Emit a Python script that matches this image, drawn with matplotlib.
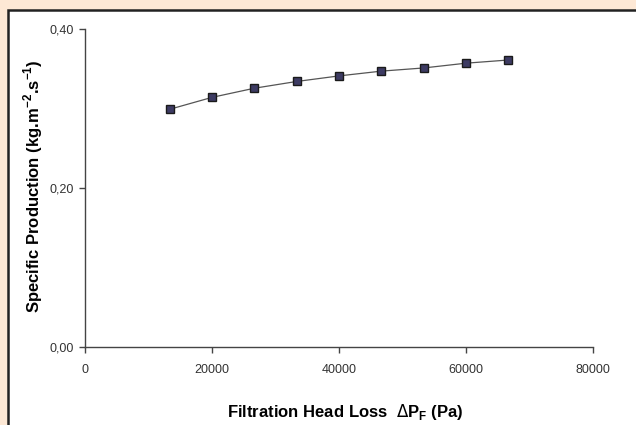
import matplotlib
matplotlib.use("Agg")
import matplotlib.pyplot as plt
from matplotlib.patches import Rectangle

head_loss = [13333, 20000, 26667, 33333, 40000, 46667, 53333, 60000, 66667]
production = [0.299, 0.314, 0.3255, 0.334, 0.341, 0.347, 0.351, 0.357, 0.361]
x_ticks = [0, 20000, 40000, 60000, 80000]
y_ticks = [0.0, 0.2, 0.4]
y_tick_labels = ["0,00", "0,20", "0,40"]

plt.rcParams['font.family'] = ['Liberation Sans', 'DejaVu Sans']

fig = plt.figure(figsize=(6.36, 4.25), dpi=100, facecolor='#FDE8D5')
W, H = 636, 425
bg = Rectangle((8 / W, -0.01), 1.0, 1 - 10 / H + 0.01,
               transform=fig.transFigure, facecolor='white',
               edgecolor='#222222', linewidth=1.8, zorder=-10)
fig.add_artist(bg)

ax = fig.add_axes([85 / W, 1 - 347 / H, (593 - 85) / W, (347 - 29) / H])
ax.set_zorder(5)
ax.set_facecolor('none')
ax.plot(head_loss, production, color='#555555', linewidth=0.9,
        marker='s', markersize=6, markerfacecolor='#3D3B63',
        markeredgecolor='#1a1a1a', markeredgewidth=1.0)

ax.set_xlim(0, 80000)
ax.set_ylim(0, 0.4)
ax.set_xticks(x_ticks)
ax.set_xticklabels([str(v) for v in x_ticks])
ax.set_yticks(y_ticks)
ax.set_yticklabels(y_tick_labels)
for s in ['top', 'right']:
    ax.spines[s].set_visible(False)
for s in ['left', 'bottom']:
    ax.spines[s].set_color('#444444')
    ax.spines[s].set_linewidth(1.0)
ax.tick_params(direction='out', length=4, width=1, color='#444444',
               labelsize=9, labelcolor='#333333')
ax.tick_params(axis='x', pad=8)
ax.tick_params(axis='y', pad=4)
for lab in ax.get_xticklabels() + ax.get_yticklabels():
    lab.set_family(['Liberation Sans Narrow', 'Liberation Sans', 'DejaVu Sans'])

ax.set_xlabel(r'Filtration Head Loss  $\Delta$P$_\mathregular{F}$ (Pa)',
              fontsize=12, fontweight='bold')
ax.xaxis.set_label_coords((345 - 85) / 508, (347 - 412) / 318)
ax.xaxis.label.set_va('center')
ax.set_ylabel(r'Specific Production (kg.m$^\mathregular{-2}$.s$^\mathregular{-1}$)',
              fontsize=12, fontweight='bold')
ax.yaxis.set_label_coords((33 - 85) / 508, (347 - 186) / 318)
ax.yaxis.label.set_va('center')

fig.savefig('out.png', dpi=100, facecolor=fig.get_facecolor())
